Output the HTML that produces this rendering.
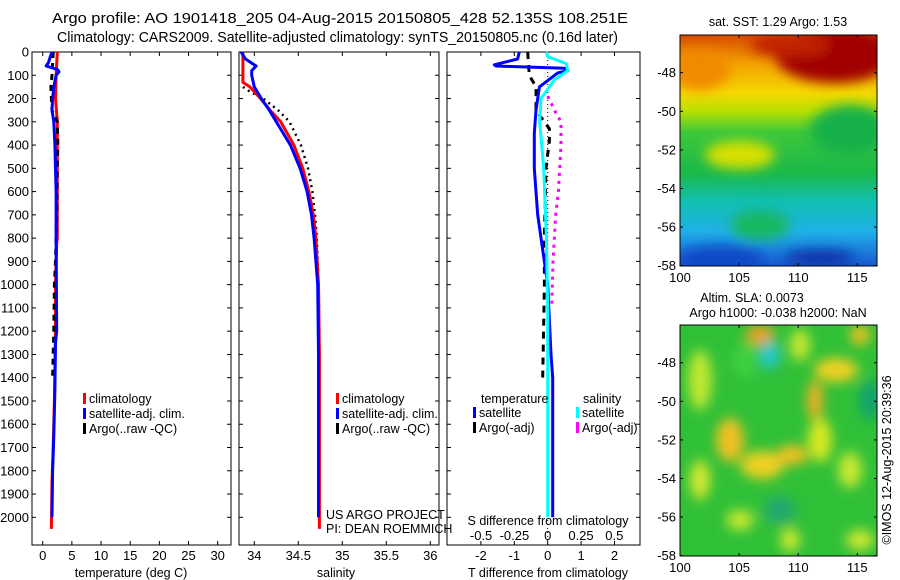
<!DOCTYPE html>
<html><head><meta charset="utf-8">
<style>
body{margin:0;background:#fff;}
svg{display:block;font-family:"Liberation Sans",sans-serif;}
text{fill:#000;}
</style></head>
<body>
<svg id="fig" width="900" height="580" viewBox="0 0 900 580" xmlns="http://www.w3.org/2000/svg">
<defs>
<linearGradient id="sstGrad" x1="0" y1="0" x2="0" y2="1">
<stop offset="0" stop-color="#d84a00"/><stop offset="0.12" stop-color="#f2a000"/><stop offset="0.25" stop-color="#f5d800"/><stop offset="0.33" stop-color="#b8e000"/><stop offset="0.42" stop-color="#3ec83a"/><stop offset="0.6" stop-color="#1ab84a"/><stop offset="0.72" stop-color="#10c0b0"/><stop offset="0.85" stop-color="#20b0e8"/><stop offset="1" stop-color="#1858d0"/>
</linearGradient>
<filter id="blur6"><feGaussianBlur stdDeviation="6"/></filter>
<clipPath id="clipTop"><rect x="680" y="35" width="197" height="231"/></clipPath>
<clipPath id="clipBot"><rect x="680" y="325" width="197" height="231"/></clipPath>
</defs>

<text x="52" y="23" font-size="14.5" textLength="576" lengthAdjust="spacingAndGlyphs">Argo profile: AO 1901418_205 04-Aug-2015 20150805_428 52.135S 108.251E</text>
<text x="57" y="42" font-size="14.5" textLength="561" lengthAdjust="spacingAndGlyphs">Climatology: CARS2009. Satellite-adjusted climatology: synTS_20150805.nc (0.16d later)</text>

<g id="p1"></g>
<g id="p2"></g>
<g id="p3"></g>

<g>
<g clip-path="url(#clipTop)">
<rect x="680" y="35" width="197" height="231" fill="url(#sstGrad)"/>
<g filter="url(#blur6)">
<ellipse cx="835" cy="55" rx="60" ry="28" fill="#a00000"/>
<ellipse cx="790" cy="45" rx="40" ry="12" fill="#c02000"/>
<ellipse cx="700" cy="70" rx="30" ry="20" fill="#f08a00"/>
<ellipse cx="740" cy="155" rx="35" ry="14" fill="#d8e000"/>
<ellipse cx="850" cy="130" rx="40" ry="25" fill="#18b048"/>
<ellipse cx="720" cy="260" rx="45" ry="14" fill="#1048c8"/>
<ellipse cx="820" cy="258" rx="35" ry="8" fill="#1030a8"/>
<ellipse cx="760" cy="225" rx="30" ry="15" fill="#18b860"/>
</g>
</g>
<rect x="680" y="35" width="197" height="231" fill="none" stroke="#000"/>
<text x="778" y="26" font-size="12.5" text-anchor="middle">sat. SST: 1.29 Argo: 1.53</text>
</g>

<g>
<g clip-path="url(#clipBot)">
<rect x="680" y="325" width="197" height="231" fill="#30c038"/>
<g filter="url(#blur6)">
<ellipse cx="760" cy="335" rx="14" ry="10" fill="#f0a020"/>
<ellipse cx="770" cy="355" rx="10" ry="14" fill="#20c8d0"/>
<ellipse cx="730" cy="440" rx="14" ry="22" fill="#f0c020"/>
<ellipse cx="762" cy="465" rx="22" ry="14" fill="#f0d020"/>
<ellipse cx="792" cy="455" rx="16" ry="10" fill="#f0c020"/>
<ellipse cx="836" cy="370" rx="22" ry="12" fill="#f0d020"/>
<ellipse cx="820" cy="440" rx="12" ry="22" fill="#d8e820"/>
<ellipse cx="700" cy="380" rx="12" ry="30" fill="#c0e830"/>
<ellipse cx="815" cy="400" rx="8" ry="20" fill="#f0b020"/>
<ellipse cx="870" cy="400" rx="10" ry="20" fill="#10a070"/>
<ellipse cx="780" cy="510" rx="16" ry="14" fill="#20a870"/>
<ellipse cx="790" cy="540" rx="10" ry="12" fill="#c8e830"/>
<ellipse cx="860" cy="540" rx="14" ry="10" fill="#d0e830"/>
<ellipse cx="745" cy="360" rx="12" ry="18" fill="#40d040"/>
<ellipse cx="850" cy="470" rx="12" ry="18" fill="#c8e830"/>
<ellipse cx="700" cy="480" rx="10" ry="20" fill="#d8e830"/>
<ellipse cx="800" cy="345" rx="10" ry="16" fill="#c8e830"/>
<ellipse cx="740" cy="520" rx="14" ry="10" fill="#c8e830"/>
<ellipse cx="860" cy="335" rx="10" ry="10" fill="#f0c020"/>
</g>
</g>
<rect x="680" y="325" width="197" height="231" fill="none" stroke="#000"/>
<text x="752" y="302" font-size="12.5" text-anchor="middle">Altim. SLA: 0.0073</text>
<text x="778" y="317" font-size="12.5" text-anchor="middle">Argo h1000: -0.038 h2000: NaN</text>
</g>
<g id="maps-axes"></g>
<text transform="translate(891,460) rotate(-90)" font-size="12.5" text-anchor="middle">©IMOS 12-Aug-2015 20:39:36</text>

<script>
// ---- data ----
const depthTicks = [0,100,200,300,400,500,600,700,800,900,1000,1100,1200,1300,1400,1500,1600,1700,1800,1900,2000];
const tempTicks = [0,5,10,15,20,25,30];
const salTicks = [34,34.5,35,35.5,36];
const salTickLabels = ["34","34.5","35","35.5","36"];
const dTTicks = [-2,-1,0,1,2];
const dSTicks = [-0.5,-0.25,0,0.25,0.5];
const dSTickLabels = ["-0.5","-0.25","0","0.25","0.5"];

const tClimDepth = [0,100,200,300,500,800,820,1000,1200,1500,1700,1850,2050];
const tClim = [2.5,2.3,2.2,2.5,2.5,2.5,2.4,2.2,2.2,2.0,1.8,1.6,1.5];
const tSatDepth = [0,20,45,60,75,85,100,150,200,250,300,400,600,800,1200,1250,1450,1650,1800,2000];
const tSat = [1.6,1.3,1.0,0.6,2.5,2.8,2.3,1.9,1.7,1.6,1.9,2.1,2.3,2.3,2.4,2.2,2.1,1.9,1.7,1.6];
const tArgoDepth = [0,50,100,150,200,250,300,400,500,700,900,1000,1200,1400];
const tArgo = [1.8,1.7,1.6,1.4,1.5,1.6,2.5,2.6,2.5,2.4,2.2,2.0,1.9,1.7];

const sClimDepth = [0,130,150,200,250,300,400,500,600,700,800,1000,1300,2050];
const sClim = [33.87,33.87,33.95,34.07,34.18,34.3,34.45,34.55,34.62,34.67,34.7,34.73,34.74,34.74];
const sSatDepth = [0,30,60,80,100,150,200,250,300,400,500,600,700,800,1000,1300,2000];
const sSat = [33.85,33.9,34.02,33.97,33.97,34.0,34.08,34.17,34.25,34.41,34.52,34.6,34.65,34.68,34.72,34.73,34.73];
const sArgoDepth = [150,170,200,250,300,400,500,600,700,800,1000,1200];
const sArgo = [33.87,33.95,34.1,34.27,34.4,34.53,34.61,34.66,34.69,34.71,34.73,34.74];

const dTSatDepth = [0,30,55,60,70,80,90,150,250,350,500,700,1000,1300,1400,2000];
const dTSat = [-0.85,-0.9,-1.6,-1.55,0.5,0.6,0.3,-0.25,-0.35,-0.4,-0.4,-0.3,0.0,0.1,0.15,0.15];
const dSSatDepth = [0,20,50,80,120,200,300,500,800,1100,2000];
const dSSat = [-0.01,0.0,0.14,0.15,0.05,-0.05,-0.06,-0.03,-0.01,0.0,0.0];
const dTArgoDepth = [0,100,150,250,300,330,380,500,800,1000,1400];
const dTArgo = [-0.6,-0.55,-0.35,-0.35,-0.1,0.05,0.05,-0.05,-0.1,-0.1,-0.15];
const dSArgoDepth = [190,260,300,400,500,600,700,900,1100];
const dSArgo = [0.0,0.06,0.1,0.1,0.09,0.08,0.06,0.04,0.03];

const lonTicks = [100,105,110,115];
const latTicks = [-48,-50,-52,-54,-56,-58];

// ---- helpers ----
const NS = "http://www.w3.org/2000/svg";
function mk(tag, parent, attrs){const e=document.createElementNS(NS,tag);for(const k in attrs)e.setAttribute(k,attrs[k]);parent.appendChild(e);return e;}
const yD = d => 52 + d*0.23265;
const PTOP=52, PBOT=545;
function frame(g,x0,x1){const r=mk('rect',g,{x:x0,y:PTOP,width:x1-x0,height:PBOT-PTOP,fill:'none',stroke:'#000'});}
function yticks(g,x0,x1,labels){
  depthTicks.forEach(d=>{const y=yD(d);
    mk('line',g,{x1:x0,y1:y,x2:x0+4,y2:y,stroke:'#000'});
    mk('line',g,{x1:x1,y1:y,x2:x1-4,y2:y,stroke:'#000'});
    if(labels){const t=mk('text',g,{x:x0-3,y:y+4.5,'font-size':13,'text-anchor':'end'});t.textContent=d;
      }
  });
}
function xticks(g,vals,labs,sx,y,ly,top){
  vals.forEach((v,i)=>{const x=sx(v);
    mk('line',g,{x1:x,y1:PBOT,x2:x,y2:PBOT-4,stroke:'#000'});
    if(top) mk('line',g,{x1:x,y1:PTOP,x2:x,y2:PTOP+4,stroke:'#000'});
    const t=mk('text',g,{x:x,y:ly,'font-size':13,'text-anchor':'middle'});t.textContent=labs[i];
    });
}
function line(g,depths,vals,sx,color,w,dash,name){
  const pts=depths.map((d,i)=>sx(vals[i]).toFixed(1)+','+yD(d).toFixed(1)).join(' ');
  const p=mk('polyline',g,{points:pts,fill:'none',stroke:color,'stroke-width':w,'stroke-linejoin':'round'});
  if(dash)p.setAttribute('stroke-dasharray',dash);
  
}
function legend(g,x,y,items){
  items.forEach((it,i)=>{const yy=y+i*15;
    mk('rect',g,{x:x,y:yy-10,width:3,height:11,fill:it[1]});
    const t=mk('text',g,{x:x+6,y:yy,'font-size':12.5});t.textContent=it[0];
    });
}
function label(g,x,y,s,name,anchor){const t=mk('text',g,{x:x,y:y,'font-size':12.5,'text-anchor':anchor||'middle'});t.textContent=s;}

// ---- panel 1: temperature ----
const g1=document.getElementById('p1');
const sxT=v=>42.7+v*5.833;
frame(g1,32,231); yticks(g1,32,231,true);
xticks(g1,tempTicks,tempTicks.map(String),sxT,PBOT,560,true);
line(g1,tClimDepth,tClim,sxT,'#ff0000',3,null,'temp-climatology-line');
line(g1,tArgoDepth,tArgo,sxT,'#000',3,'6,5','temp-argo-line');
line(g1,tSatDepth,tSat,sxT,'#0000ff',3,null,'temp-satellite-line');
legend(g1,83,403,[['climatology','#f00'],['satellite-adj. clim.','#00f'],['Argo(..raw -QC)','#000']]);
label(g1,131,577,'temperature (deg C)','x-axis-title-temperature');

// ---- panel 2: salinity ----
const g2=document.getElementById('p2');
const sxS=v=>254.3+(v-34)*88;
frame(g2,239,439); yticks(g2,239,439,false);
xticks(g2,salTicks,salTickLabels,sxS,PBOT,560,true);
line(g2,sArgoDepth,sArgo,sxS,'#000',2.5,'2,4','sal-argo-line');
line(g2,sClimDepth,sClim,sxS,'#ff0000',3,null,'sal-climatology-line');
line(g2,sSatDepth,sSat,sxS,'#0000ff',3,null,'sal-satellite-line');
legend(g2,336,403,[['climatology','#f00'],['satellite-adj. clim.','#00f'],['Argo(..raw -QC)','#000']]);
label(g2,326,519,'US ARGO PROJECT','credit-project','start');
label(g2,326,533,'PI: DEAN ROEMMICH','credit-pi','start');
label(g2,336,577,'salinity','x-axis-title-salinity');

// ---- panel 3: differences ----
const g3=document.getElementById('p3');
const sxdT=v=>547.7+v*33.4;
const sxdS=v=>547.7+v*133.2;
frame(g3,447,640); yticks(g3,447,640,false);
xticks(g3,dTTicks,dTTicks.map(String),sxdT,PBOT,560,true);
dSTicks.forEach((v,i)=>{const t=mk('text',g3,{x:sxdS(v),y:540,'font-size':13,'text-anchor':'middle'});t.textContent=dSTickLabels[i];});
mk('line',g3,{x1:sxdT(0),y1:PTOP,x2:sxdT(0),y2:PBOT,stroke:'#000','stroke-width':1,'stroke-dasharray':'1,3'});
line(g3,dSArgoDepth,dSArgo,sxdS,'#ff00ff',3,'3,5','sdiff-argo-line');
line(g3,dTArgoDepth,dTArgo,sxdT,'#000',3,'7,6','tdiff-argo-line');
line(g3,dTSatDepth,dTSat,sxdT,'#0000ff',3,null,'tdiff-satellite-line');
line(g3,dSSatDepth,dSSat,sxdS,'#00ffff',3,null,'sdiff-satellite-line');
label(g3,481,403,'temperature','legend-title-temperature','start');
label(g3,583,403,'salinity','legend-title-salinity','start');
legend(g3,473,417,[['satellite','#00f'],['Argo(-adj)','#000']]);
legend(g3,576,417,[['satellite','#0ff'],['Argo(-adj)','#f0f']]);
label(g3,548,525,'S difference from climatology','s-diff-axis-title');
label(g3,548,577,'T difference from climatology','t-diff-axis-title');

// ---- map axes ----
const gm=document.getElementById('maps-axes');
const sxLon=v=>680+(v-100)*11.82;
[[35,266,72.7],[325,556,362.7]].forEach(([top,bot,y48])=>{
  const syLat=v=>y48+(-48-v)*19.3;
  lonTicks.forEach(v=>{const x=sxLon(v);
    mk('line',gm,{x1:x,y1:bot,x2:x,y2:bot-3,stroke:'#000'});
    mk('line',gm,{x1:x,y1:top,x2:x,y2:top+3,stroke:'#000'});
    const t=mk('text',gm,{x:x,y:bot+16,'font-size':13,'text-anchor':'middle'});t.textContent=v;
    });
  latTicks.forEach(v=>{const y=syLat(v);
    mk('line',gm,{x1:680,y1:y,x2:683,y2:y,stroke:'#000'});
    mk('line',gm,{x1:877,y1:y,x2:874,y2:y,stroke:'#000'});
    const t=mk('text',gm,{x:676,y:y+4.5,'font-size':13,'text-anchor':'end'});t.textContent=v;
    });
});
</script>
</svg>
</body></html>
